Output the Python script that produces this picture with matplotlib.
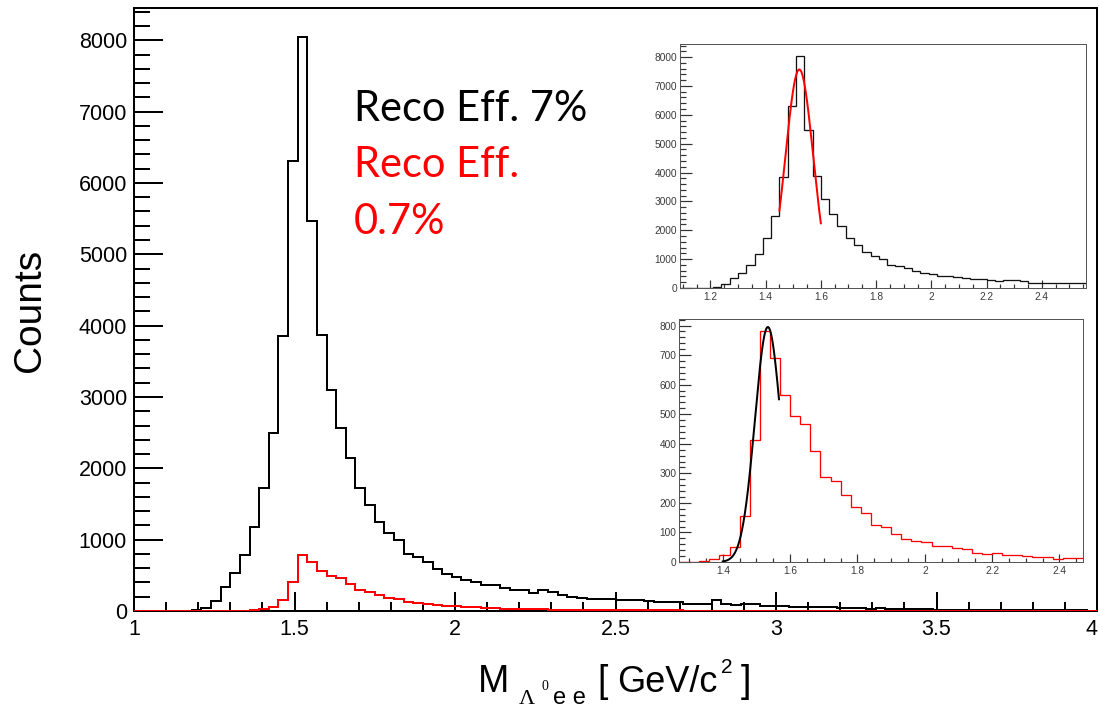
import numpy as np
import matplotlib
matplotlib.use("Agg")
import matplotlib.pyplot as plt
from matplotlib.ticker import MultipleLocator, FuncFormatter, FixedLocator

# ---------------- data ----------------
bin_lo, bin_hi, n_bins = 1.0, 4.0, 100

black_counts = [
    0, 0, 0, 0, 0, 0, 10, 45, 135, 335,           # 1.00 - 1.30
    535, 780, 1180, 1720, 2500, 3860, 6310, 8050, 5470, 3870,   # 1.30 - 1.60
    3100, 2570, 2150, 1720, 1480, 1250, 1100, 995, 800, 750,   # 1.60 - 1.90
    680, 590, 520, 475, 430, 405, 370, 360, 325, 300,         # 1.90 - 2.20
    290, 255, 290, 265, 230, 190, 185, 175, 175, 165,         # 2.20 - 2.50
    160, 160, 150, 140, 130, 130, 125, 105, 100, 105,         # 2.50 - 2.80
    155, 95, 90, 105, 100, 70, 65, 65, 60, 60,                # 2.80 - 3.10
    55, 50, 50, 45, 40, 40, 35, 40, 35, 35,                   # 3.10 - 3.40
    35, 30, 25, 20, 20, 18, 18, 15, 15, 15,                   # 3.40 - 3.70
    12, 12, 12, 10, 10, 10, 8, 8, 8, 5,                       # 3.70 - 4.00
]

red_counts = [
    0, 0, 0, 0, 0, 0, 0, 0, 0, 0,                             # 1.00 - 1.30
    0, 5, 11, 23, 52, 156, 412, 783, 690, 566,                # 1.30 - 1.60
    494, 468, 375, 288, 273, 226, 185, 167, 124, 118,         # 1.60 - 1.90
    95, 78, 71, 66, 54, 54, 49, 43, 32, 27,                   # 1.90 - 2.20
    30, 25, 24, 21, 18, 18, 10, 14, 13, 12,                   # 2.20 - 2.50
    11, 10, 10, 9, 9, 8, 8, 7, 7, 7,                          # 2.50 - 2.80
    6, 6, 6, 5, 5, 5, 5, 4, 4, 4,                             # 2.80 - 3.10
    4, 4, 3, 3, 3, 3, 3, 3, 2, 2,                             # 3.10 - 3.40
    2, 2, 2, 2, 2, 2, 2, 1, 1, 1,                             # 3.40 - 3.70
    1, 1, 1, 1, 1, 1, 1, 1, 1, 1,                             # 3.70 - 4.00
]

x_tick_labels = ["1", "1.5", "2", "2.5", "3", "3.5", "4"]

# Gaussian fit results (amplitude, mean, sigma, fit range)
fit_black = dict(amp=7570, mean=1.522, sigma=0.050, lo=1.45, hi=1.60)
fit_red = dict(amp=795, mean=1.534, sigma=0.0385, lo=1.40, hi=1.567)

main_text = ["Reco Eff. 7%", "Reco Eff.", "0.7%"]
main_text_colors = ["black", "red", "red"]

edges = np.linspace(bin_lo, bin_hi, n_bins + 1)
black = np.array(black_counts, dtype=float)
red = np.array(red_counts, dtype=float)
assert len(black) == n_bins and len(red) == n_bins

# ---------------- figure ----------------
W, H = 1099, 707
fig = plt.figure(figsize=(W / 100, H / 100), dpi=100)
fig.patch.set_facecolor("white")
PX = 0.72  # points per pixel at dpi 100


def fbox(l, t, r, b):
    return [l / W, 1 - b / H, (r - l) / W, (b - t) / H]


def ftext(x, y, s, **kw):
    return fig.text(x / W, 1 - y / H, s, **kw)


fmt = FuncFormatter(lambda v, p: "%g" % round(v, 6))

# main axes
ax = fig.add_axes(fbox(134, 8, 1097, 611))
ax.stairs(black, edges, color="black", lw=2.0 * PX, zorder=2)
ax.stairs(red, edges, color="red", lw=2.0 * PX, zorder=3)
ax.set_xlim(bin_lo, bin_hi)
ax.set_ylim(0, max(black) * 1.05)
ax.set_xticks([float(t) for t in x_tick_labels])
ax.set_xticklabels(x_tick_labels, fontfamily="Liberation Sans")
ax.xaxis.set_minor_locator(MultipleLocator(0.1))
ax.yaxis.set_major_locator(MultipleLocator(1000))
ax.yaxis.set_minor_locator(MultipleLocator(200))
ax.yaxis.set_major_formatter(fmt)
for s in ax.spines.values():
    s.set_linewidth(2.0 * PX)
ax.tick_params(axis="both", which="both", direction="in", width=2.0 * PX,
               top=False, right=False, labelsize=15.5, colors="black")
ax.tick_params(axis="x", which="major", length=19 * PX, pad=6)
ax.tick_params(axis="x", which="minor", length=9 * PX)
ax.tick_params(axis="y", which="major", length=29 * PX, pad=5)
ax.tick_params(axis="y", which="minor", length=16 * PX)
for lab in ax.get_yticklabels():
    lab.set_fontfamily("Liberation Sans")
ax.get_xticklabels()[-1].set_horizontalalignment("right")

# axis titles
ftext(30, 310, "Counts", rotation=90, ha="center", va="center",
      fontsize=28, family="Liberation Sans")
ftext(478, 692, "M", ha="left", va="baseline", fontsize=27, family="Liberation Sans")
ftext(519, 704, "Λ", ha="left", va="baseline", fontsize=16, family="Liberation Serif")
ftext(541, 690, "0", ha="left", va="baseline", fontsize=10, family="Liberation Serif")
ftext(553, 704, "e e", ha="left", va="baseline", fontsize=17, family="Liberation Sans")
ftext(597, 692, "[", ha="left", va="baseline", fontsize=27, family="Liberation Sans")
ftext(617, 692, "GeV/c", ha="left", va="baseline", fontsize=26, family="Liberation Sans")
ftext(721, 673, "2", ha="left", va="baseline", fontsize=15, family="Liberation Sans")
ftext(741, 692, "]", ha="left", va="baseline", fontsize=27, family="Liberation Sans")

# efficiency texts
ftext(354, 121, main_text[0], color=main_text_colors[0], va="baseline",
      fontsize=30, family="Lato")
ftext(354, 177, main_text[1], color=main_text_colors[1], va="baseline",
      fontsize=30, family="Lato")
ftext(354, 234, main_text[2], color=main_text_colors[2], va="baseline",
      fontsize=30, family="Lato")


def style_inset(a, xmaj, xmin, ymaj, ymin):
    a.set_facecolor("white")
    a.xaxis.set_major_locator(MultipleLocator(xmaj))
    a.xaxis.set_minor_locator(MultipleLocator(xmin))
    a.yaxis.set_major_locator(MultipleLocator(ymaj))
    a.yaxis.set_minor_locator(MultipleLocator(ymin))
    a.xaxis.set_major_formatter(fmt)
    a.yaxis.set_major_formatter(fmt)
    for s in a.spines.values():
        s.set_linewidth(1.0 * PX)
        s.set_color("#555555")
    a.tick_params(axis="both", which="both", direction="in", width=1.2 * PX,
                  top=False, right=False, labelsize=7.3, labelcolor="#3a3a3a",
                  color="#333333")
    a.tick_params(axis="x", which="major", length=8 * PX, pad=3)
    a.tick_params(axis="x", which="minor", length=4 * PX)
    a.tick_params(axis="y", which="major", length=12 * PX, pad=2)
    a.tick_params(axis="y", which="minor", length=6 * PX)
    for lab in a.get_xticklabels() + a.get_yticklabels():
        lab.set_fontfamily("Liberation Sans")


def gauss_curve(a, f, color):
    xs = np.linspace(f["lo"], f["hi"], 200)
    ys = f["amp"] * np.exp(-0.5 * ((xs - f["mean"]) / f["sigma"]) ** 2)
    a.plot(xs, ys, color=color, lw=2.0 * PX, zorder=4)


# inset 1: black histogram with red fit
ax1 = fig.add_axes(fbox(680, 44, 1086, 288))
ax1.stairs(black, edges, color="#111111", lw=1.3 * PX, zorder=2)
gauss_curve(ax1, fit_black, "red")
ax1.set_xlim(1.09, 2.56)
ax1.set_ylim(0, max(black) * 1.05)
style_inset(ax1, 0.2, 0.05, 1000, 200)

# inset 2: red histogram with black fit
ax2 = fig.add_axes(fbox(679, 319, 1083, 562))
ax2.stairs(red, edges, color="red", lw=1.3 * PX, zorder=2)
gauss_curve(ax2, fit_red, "black")
ax2.set_xlim(1.27, 2.47)
ax2.set_ylim(0, max(red) * 1.05)
style_inset(ax2, 0.2, 0.05, 100, 20)

fig.savefig("out.png", dpi=100, facecolor="white")
